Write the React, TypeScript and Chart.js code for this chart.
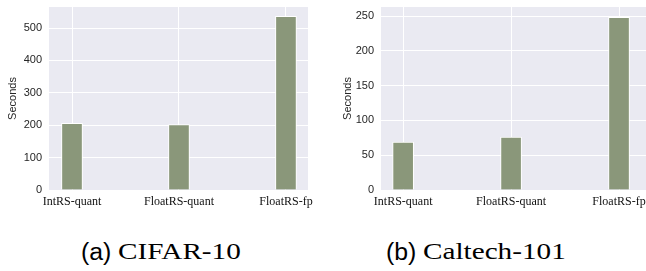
import React, { useEffect, useRef } from "react";
import { Chart, registerables } from "chart.js";
Chart.register(...registerables);

const categories = ["IntRS-quant", "FloatRS-quant", "FloatRS-fp"];
const cifarSeconds = [206, 202, 536];
const caltechSeconds = [69, 76, 248];
const cifarTicks = [0, 100, 200, 300, 400, 500];
const caltechTicks = [0, 50, 100, 150, 200, 250];
const cifarMax = 565;
const caltechMax = 263;
const cifarXRange = [-0.215, 2.206];
const caltechXRange = [-0.205, 2.25];

const BAR_COLOR = "#8a977a";
const BG = "#eaeaf2";

const bgPlugin = {
  id: "plotBg",
  beforeDraw(chart: any) {
    const { ctx, chartArea } = chart;
    if (!chartArea) return;
    ctx.save();
    ctx.fillStyle = BG;
    ctx.fillRect(chartArea.left, chartArea.top, chartArea.right - chartArea.left, chartArea.bottom - chartArea.top);
    ctx.restore();
  },
};

function makeConfig(values: number[], yTicks: number[], yMax: number, xRange: number[], yWidth: number, xHeight: number, rightPad: number, titlePad: number): any {
  return {
    type: "bar",
    data: {
      datasets: [
        {
          data: values.map((v, i) => ({ x: i, y: v })),
          backgroundColor: BAR_COLOR,
          borderColor: "#ffffff",
          borderWidth: 1,
          borderSkipped: "bottom",
          barThickness: 21,
        },
      ],
    },
    options: {
      responsive: false,
      animation: false,
      layout: { padding: { top: 7, right: rightPad, left: 0, bottom: 0 } },
      plugins: { legend: { display: false }, tooltip: { enabled: false } },
      scales: {
        x: {
          type: "linear",
          min: xRange[0],
          max: xRange[1],
          offset: false,
          afterBuildTicks: (s: any) => {
            s.ticks = categories.map((_, i) => ({ value: i }));
          },
          afterFit: (s: any) => {
            s.height = xHeight;
            s.paddingLeft = 0;
            s.paddingRight = 0;
          },
          grid: { color: "#ffffff", lineWidth: 1, drawTicks: false, offset: false },
          border: { display: false },
          ticks: {
            padding: 5,
            maxRotation: 0,
            autoSkip: false,
            color: "#111111",
            font: { family: "'Liberation Serif', 'Times New Roman', serif", size: 12 },
            callback: (v: any) => categories[Math.round(v)] ?? "",
          },
        },
        y: {
          type: "linear",
          min: 0,
          max: yMax,
          afterBuildTicks: (s: any) => {
            s.ticks = yTicks.map((v) => ({ value: v }));
          },
          afterFit: (s: any) => {
            s.width = yWidth;
            s.paddingTop = 0;
            s.paddingBottom = 0;
          },
          grid: { color: "#ffffff", lineWidth: 1, drawTicks: false },
          border: { display: false },
          ticks: {
            padding: 7,
            color: "#262626",
            font: { family: "'Liberation Sans', Arial, sans-serif", size: 11 },
          },
          title: {
            display: true,
            text: "Seconds",
            color: "#262626",
            padding: { top: titlePad, bottom: 0 },
            font: { family: "'Liberation Sans', Arial, sans-serif", size: 11 },
          },
        },
      },
    },
    plugins: [bgPlugin],
  };
}

function BarPanel(props: { values: number[]; ticks: number[]; yMax: number; xRange: number[]; yWidth: number; rightPad: number; titlePad: number; width: number; height: number; left: number }) {
  const ref = useRef<HTMLCanvasElement | null>(null);
  useEffect(() => {
    if (!ref.current) return;
    const chart = new Chart(
      ref.current,
      makeConfig(props.values, props.ticks, props.yMax, props.xRange, props.yWidth, props.height - 190, props.rightPad, props.titlePad)
    );
    return () => chart.destroy();
  }, []);
  return (
    <canvas
      ref={ref}
      width={props.width}
      height={props.height}
      style={{ position: "absolute", left: props.left, top: 0, width: props.width, height: props.height }}
    />
  );
}

function Caption(props: { tag: string; name: string; tagLeft: number; nameLeft: number }) {
  const common: React.CSSProperties = {
    position: "absolute",
    top: 241,
    whiteSpace: "nowrap",
    lineHeight: "22px",
    color: "#000",
    transformOrigin: "left center",
  };
  return (
    <>
      <div style={{ ...common, left: props.tagLeft, fontSize: 23, fontFamily: "'Liberation Sans', Arial, sans-serif", transform: "scaleX(1.08)" }}>
        {props.tag}
      </div>
      <div style={{ ...common, left: props.nameLeft, fontSize: 23, fontFamily: "'Liberation Serif', 'Times New Roman', serif", transform: "scaleX(1.27)" }}>
        {props.name}
      </div>
    </>
  );
}

export default function App() {
  return (
    <div style={{ position: "fixed", left: 0, top: 0, width: 646, height: 271, background: "#fff", overflow: "hidden" }}>
      <BarPanel values={cifarSeconds} ticks={cifarTicks} yMax={cifarMax} xRange={cifarXRange} yWidth={49} rightPad={12} titlePad={6} width={320} height={215} left={0} />
      <BarPanel values={caltechSeconds} ticks={caltechTicks} yMax={caltechMax} xRange={caltechXRange} yWidth={61} rightPad={0} titlePad={21} width={326} height={215} left={320} />
      <Caption tag="(a)" name="CIFAR-10" tagLeft={81} nameLeft={118} />
      <Caption tag="(b)" name="Caltech-101" tagLeft={386} nameLeft={423} />
    </div>
  );
}
